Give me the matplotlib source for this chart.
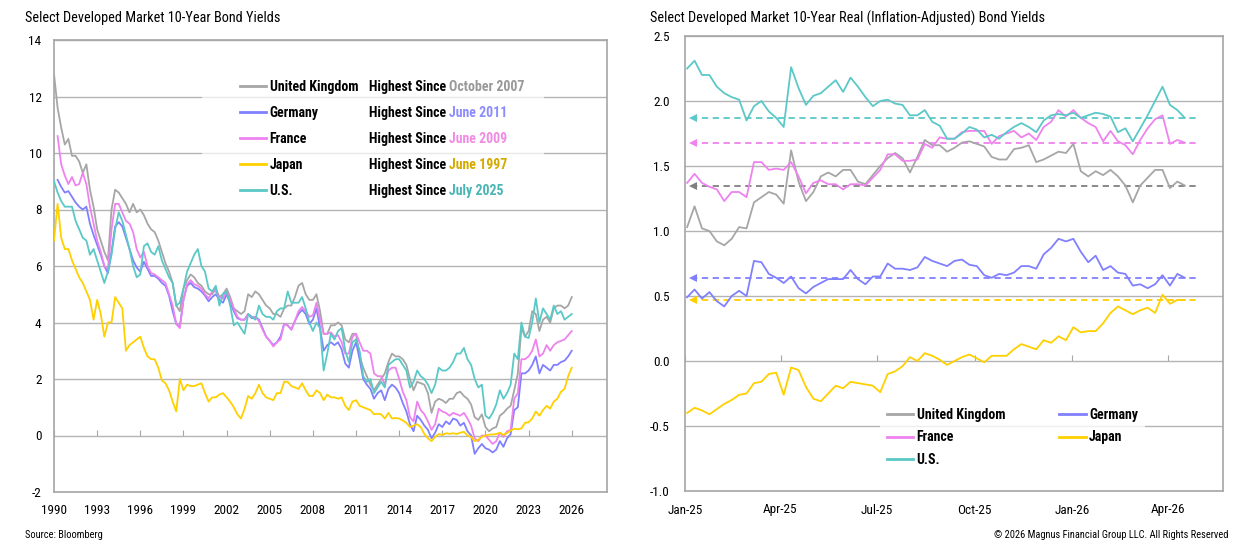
import matplotlib
matplotlib.use('Agg')
import matplotlib.pyplot as plt
import matplotlib.dates as mdates
from matplotlib.patches import Rectangle
from matplotlib.ticker import FormatStrFormatter
import numpy as np
import pandas as pd

plt.rcParams['font.family'] = ['Roboto Condensed', 'DejaVu Sans']
plt.rcParams['axes.unicode_minus'] = False

countries = ['United Kingdom', 'Germany', 'France', 'Japan', 'U.S.']
line_colors = ['#a6a6a6', '#8080ff', '#ee82ee', '#ffd000', '#5bc8c8']
dash_colors = ['#808080', '#8080ff', '#ee82ee', '#ffd000', '#5bc8c8']
since_dates = ['October 2007', 'June 2011', 'June 2009', 'June 1997', 'July 2025']
since_colors = ['#999999', '#8c8cff', '#f08ce6', '#d4aa00', '#4bb5b5']

# left chart: 10-year nominal yields, quarterly, chart starts 1990
start_year = 1990
uk_10y = [12.8, 11.6, 10.9, 10.3, 10.5, 9.9, 9.9, 9.7, 9.3, 9.6, 8.7, 8.1,
          7.3, 6.9, 6.5, 6.2, 8.0, 8.7, 8.6, 8.4, 8.2, 7.9, 8.2, 7.9,
          8.0, 7.8, 7.5, 7.3, 7.2, 6.9, 6.5, 6.1, 5.8, 5.4, 4.6, 4.4,
          5.2, 5.5, 5.7, 5.6, 5.4, 5.3, 5.1, 5.0, 5.0, 5.2, 4.9, 5.0,
          5.2, 4.9, 4.5, 4.4, 4.3, 4.4, 5.0, 4.9, 5.1, 5.0, 4.8, 4.6,
          4.5, 4.3, 4.3, 4.2, 4.5, 4.6, 4.6, 4.9, 5.3, 5.4, 5.0, 4.8,
          4.8, 5.0, 4.4, 3.6, 3.6, 3.9, 3.9, 4.0, 3.9, 3.4, 3.3, 3.6,
          3.6, 2.8, 2.4, 2.1, 1.8, 1.6, 1.8, 2.0, 2.2, 2.6, 2.9, 2.8,
          2.8, 2.7, 2.5, 2.0, 1.6, 1.9, 1.85, 1.8, 1.5, 0.8, 1.2, 1.3,
          1.25, 1.15, 1.3, 1.3, 1.5, 1.55, 1.4, 1.3, 1.1, 0.65, 0.55, 0.75,
          0.3, 0.15, 0.25, 0.3, 0.7, 0.8, 0.95, 1.05, 1.6, 2.2, 3.8, 3.5,
          3.7, 4.4, 4.3, 3.7, 4.1, 4.2, 4.0, 4.5, 4.6, 4.6, 4.5, 4.6,
          4.9]
de_10y = [np.nan, 9.05, 8.8, 8.6, 8.65, 8.45, 8.25, 8.1, 8.0, 8.1, 7.5, 7.1,
          6.75, 6.4, 6.0, 5.75, 6.5, 7.4, 7.55, 7.4, 7.0, 6.6, 6.2, 5.95,
          5.8, 6.15, 5.9, 5.65, 5.65, 5.55, 5.4, 5.3, 4.95, 4.4, 3.95, 3.85,
          4.8, 5.3, 5.4, 5.25, 5.2, 5.1, 4.95, 4.75, 4.9, 5.0, 4.8, 4.7,
          5.0, 4.7, 4.4, 4.15, 4.1, 4.1, 4.3, 4.15, 4.2, 4.1, 3.8, 3.5,
          3.35, 3.2, 3.3, 3.5, 3.95, 3.9, 3.75, 4.05, 4.3, 4.45, 4.3, 3.95,
          4.1, 4.5, 3.8, 3.0, 3.2, 3.3, 3.2, 3.3, 3.05, 2.55, 2.4, 3.0,
          3.3, 2.7, 2.0, 1.8, 1.65, 1.3, 1.5, 1.6, 1.25, 1.65, 1.8, 1.7,
          1.5, 1.15, 0.85, 0.4, 0.15, 0.7, 0.55, 0.35, 0.2, -0.1, 0.1, 0.4,
          0.3, 0.5, 0.4, 0.6, 0.55, 0.35, 0.45, 0.15, 0.0, -0.65, -0.45, -0.3,
          -0.45, -0.5, -0.6, -0.5, -0.2, -0.4, -0.1, 0.05, 0.9, 1.0, 2.2, 2.2,
          2.3, 2.5, 2.8, 2.2, 2.5, 2.4, 2.3, 2.5, 2.5, 2.6, 2.65, 2.8,
          3.0]
fr_10y = [np.nan, 10.6, 9.6, 9.2, 8.9, 9.15, 8.85, 8.9, 9.3, 8.9, 8.1, 7.5,
          6.9, 6.5, 6.0, 5.9, 7.3, 8.2, 8.2, 7.9, 7.6, 7.5, 7.2, 6.6,
          6.3, 6.5, 6.0, 5.75, 5.7, 5.6, 5.5, 5.4, 5.0, 4.6, 3.95, 3.8,
          4.8, 5.35, 5.5, 5.35, 5.3, 5.2, 5.0, 4.85, 5.1, 5.1, 4.9, 4.85,
          5.1, 4.8, 4.5, 4.2, 4.1, 4.1, 4.3, 4.2, 4.2, 4.05, 3.75, 3.5,
          3.35, 3.15, 3.3, 3.4, 3.95, 3.9, 3.75, 4.05, 4.4, 4.55, 4.4, 4.2,
          4.25, 4.7, 4.1, 3.6, 3.6, 3.65, 3.5, 3.55, 3.3, 2.9, 2.9, 3.5,
          3.6, 3.3, 3.0, 3.0, 2.9, 2.2, 2.1, 2.1, 1.8, 2.3, 2.4, 2.4,
          2.0, 1.55, 1.25, 0.65, 0.5, 1.2, 0.9, 0.75, 0.5, 0.2, 0.4, 0.95,
          0.85, 0.8, 0.7, 0.8, 0.75, 0.7, 0.8, 0.6, 0.35, -0.1, -0.2, 0.0,
          0.0, -0.15, -0.3, -0.2, 0.1, -0.05, 0.15, 0.2, 1.3, 1.5, 2.7, 2.7,
          2.8, 3.0, 3.4, 2.8, 2.9, 3.2, 3.0, 3.2, 3.3, 3.35, 3.4, 3.55,
          3.7]
jp_10y = [6.9, 8.2, 7.0, 6.6, 6.6, 6.2, 5.9, 5.6, 5.4, 5.1, 4.8, 4.1,
          4.8, 4.3, 3.5, 4.0, 4.0, 4.9, 4.7, 4.5, 3.0, 3.2, 3.3, 3.4,
          3.5, 3.1, 2.8, 2.7, 2.7, 2.4, 1.95, 1.85, 1.6, 1.2, 0.85, 2.0,
          1.6, 1.8, 1.75, 1.75, 1.8, 1.85, 1.5, 1.2, 1.35, 1.35, 1.45, 1.5,
          1.35, 1.2, 1.0, 0.75, 0.6, 0.95, 1.4, 1.3, 1.5, 1.8, 1.5, 1.35,
          1.3, 1.25, 1.5, 1.5, 1.9, 1.9, 1.75, 1.7, 1.65, 1.85, 1.6, 1.4,
          1.4, 1.6, 1.5, 1.25, 1.45, 1.35, 1.35, 1.3, 1.35, 1.05, 0.9, 1.2,
          1.25, 1.05, 1.0, 0.95, 0.9, 0.75, 0.77, 0.75, 0.6, 0.8, 0.6, 0.62,
          0.6, 0.53, 0.45, 0.3, 0.35, 0.4, 0.3, 0.05, -0.1, -0.2, -0.05, 0.05,
          0.02, 0.08, 0.06, 0.08, 0.05, 0.1, 0.13, 0.0, -0.05, -0.2, -0.15, -0.05,
          0.0, 0.03, 0.04, 0.05, 0.1, 0.02, 0.09, 0.17, 0.24, 0.22, 0.25, 0.45,
          0.47, 0.6, 0.85, 0.7, 0.9, 1.05, 0.95, 1.2, 1.3, 1.55, 1.65, 2.1,
          2.4]
us_10y = [9.0, 8.6, 8.3, 8.1, 8.1, 8.1, 7.6, 7.3, 7.0, 6.9, 6.4, 6.6,
          6.2, 5.8, 5.4, 5.8, 6.4, 7.3, 7.9, 7.6, 7.1, 6.6, 6.0, 5.6,
          5.7, 6.7, 6.8, 6.5, 6.4, 6.7, 6.2, 5.9, 5.6, 5.4, 4.6, 4.7,
          5.2, 5.8, 6.1, 6.4, 6.6, 6.0, 5.8, 5.2, 5.1, 5.3, 4.6, 5.0,
          5.1, 4.6, 3.9, 4.0, 3.8, 3.6, 4.3, 4.2, 4.1, 4.6, 4.3, 4.2,
          4.2, 4.1, 4.4, 4.5, 4.5, 5.1, 4.7, 4.7, 4.7, 4.9, 4.5, 4.0,
          3.7, 4.0, 3.8, 2.3, 2.9, 3.6, 3.4, 3.7, 3.8, 3.0, 2.6, 3.3,
          3.4, 3.0, 2.1, 1.9, 2.0, 1.5, 1.7, 1.9, 1.7, 2.5, 2.6, 2.7,
          2.7, 2.5, 2.3, 1.7, 1.9, 2.3, 2.1, 2.0, 1.8, 1.5, 1.8, 2.4,
          2.3, 2.3, 2.4, 2.6, 2.9, 2.9, 3.1, 2.7, 2.5, 2.0, 1.7, 1.8,
          0.7, 0.6, 0.8, 1.1, 1.6, 1.3, 1.5, 1.8, 2.9, 2.7, 4.0, 3.5,
          3.45, 4.0, 4.85, 4.0, 4.5, 4.3, 4.1, 4.6, 4.3, 4.4, 4.1, 4.2,
          4.3]
year_ticks = [1990, 1993, 1996, 1999, 2002, 2005, 2008, 2011, 2014, 2017, 2020, 2023, 2026]

# right chart: 10-year real yields, weekly
week_start = '2025-01-03'
uk_real = [1.03, 1.19, 1.02, 1.00, 0.92, 0.89, 0.94, 1.03, 1.02, 1.22,
           1.26, 1.30, 1.28, 1.21, 1.62, 1.38, 1.23, 1.30, 1.42, 1.45,
           1.42, 1.47, 1.47, 1.38, 1.36, 1.43, 1.50, 1.56, 1.60, 1.56,
           1.45, 1.57, 1.70, 1.66, 1.66, 1.61, 1.64, 1.68, 1.69, 1.67,
           1.65, 1.57, 1.55, 1.55, 1.63, 1.64, 1.66, 1.53, 1.55, 1.58,
           1.61, 1.60, 1.67, 1.46, 1.42, 1.46, 1.43, 1.47, 1.42, 1.35,
           1.22, 1.35, 1.41, 1.47, 1.47, 1.33, 1.38, 1.35]
de_real = [0.49, 0.55, 0.48, 0.53, 0.46, 0.42, 0.50, 0.54, 0.50, 0.77,
           0.76, 0.67, 0.64, 0.60, 0.65, 0.56, 0.52, 0.57, 0.60, 0.63,
           0.63, 0.63, 0.70, 0.63, 0.59, 0.65, 0.65, 0.75, 0.71, 0.71,
           0.70, 0.72, 0.80, 0.77, 0.75, 0.73, 0.77, 0.78, 0.74, 0.73,
           0.66, 0.64, 0.67, 0.66, 0.68, 0.73, 0.73, 0.71, 0.82, 0.87,
           0.94, 0.92, 0.94, 0.84, 0.76, 0.81, 0.70, 0.73, 0.68, 0.67,
           0.58, 0.59, 0.56, 0.59, 0.66, 0.58, 0.67, 0.64]
fr_real = [1.37, 1.44, 1.37, 1.34, 1.32, 1.23, 1.30, 1.30, 1.26, 1.53,
           1.53, 1.47, 1.48, 1.47, 1.53, 1.42, 1.29, 1.37, 1.39, 1.36,
           1.36, 1.32, 1.36, 1.36, 1.35, 1.41, 1.47, 1.59, 1.59, 1.54,
           1.54, 1.55, 1.67, 1.64, 1.72, 1.71, 1.71, 1.76, 1.77, 1.77,
           1.77, 1.67, 1.73, 1.75, 1.77, 1.72, 1.75, 1.70, 1.80, 1.84,
           1.93, 1.88, 1.93, 1.87, 1.83, 1.80, 1.69, 1.77, 1.69, 1.66,
           1.59, 1.70, 1.79, 1.86, 1.89, 1.67, 1.70, 1.68]
jp_real = [-0.40, -0.36, -0.38, -0.41, -0.37, -0.33, -0.30, -0.26, -0.25, -0.17,
           -0.16, -0.10, -0.09, -0.26, -0.05, -0.07, -0.20, -0.29, -0.31, -0.25,
           -0.19, -0.21, -0.16, -0.17, -0.18, -0.19, -0.24, -0.10, -0.08, -0.04,
           0.03, 0.00, 0.06, 0.04, 0.01, -0.03, 0.00, 0.03, 0.05, 0.02,
           -0.01, 0.04, 0.04, 0.04, 0.09, 0.13, 0.11, 0.09, 0.16, 0.14,
           0.19, 0.16, 0.26, 0.22, 0.23, 0.23, 0.29, 0.37, 0.42, 0.39,
           0.36, 0.39, 0.41, 0.37, 0.51, 0.44, 0.47, 0.47]
us_real = [2.25, 2.31, 2.20, 2.20, 2.11, 2.06, 2.03, 2.01, 1.85, 1.96,
           2.00, 1.92, 1.87, 1.80, 2.26, 2.10, 1.97, 2.04, 2.06, 2.11,
           2.16, 2.07, 2.18, 2.11, 2.03, 1.96, 2.00, 2.01, 1.98, 1.97,
           1.89, 1.89, 1.93, 1.84, 1.81, 1.71, 1.71, 1.75, 1.80, 1.78,
           1.72, 1.74, 1.71, 1.76, 1.80, 1.83, 1.80, 1.76, 1.85, 1.89,
           1.90, 1.89, 1.91, 1.87, 1.89, 1.91, 1.90, 1.88, 1.76, 1.79,
           1.69, 1.79, 1.89, 2.00, 2.11, 1.97, 1.93, 1.87]
month_ticks = pd.date_range('2025-01-01', '2026-04-01', freq='QS')

grid_c = '#b4b4b4'
spine_c = '#a6a6a6'

fig = plt.figure(figsize=(12.49, 5.5), dpi=100)
ax1 = fig.add_axes([54 / 1249, 1 - 492 / 550, 553 / 1249, 452 / 550])
ax2 = fig.add_axes([685 / 1249, 1 - 491 / 550, 538 / 1249, 455 / 550])

# ---- left chart
left_series = [uk_10y, de_10y, fr_10y, jp_10y, us_10y]
years = start_year + np.arange(len(uk_10y)) / 4
for name, vals, c in zip(countries, left_series, line_colors):
    ax1.plot(years, vals, color=c, lw=1.3, label=name, zorder=3)

ax1.set_xlim(1990, 2028.45)
ax1.set_ylim(-2, 14)
ax1.set_yticks(range(-2, 15, 2))
ax1.set_xticks(year_ticks)
ax1.tick_params(axis='x', length=0, pad=9, labelsize=9.5)
ax1.tick_params(axis='y', length=0, pad=9, labelsize=9.5)
ax1.grid(axis='y', color=grid_c, lw=1.0)
ax1.set_axisbelow(True)
for s in ax1.spines.values():
    s.set_color(spine_c)
    s.set_linewidth(1.2)
sec1 = ax1.secondary_xaxis(2 / 16)
sec1.set_xticks(year_ticks)
sec1.tick_params(direction='in', length=4, color=spine_c, labelbottom=False)
sec1.spines['bottom'].set_visible(False)

ax1.add_patch(Rectangle((0.268, 0.642), 0.618, 0.285, transform=ax1.transAxes,
                        facecolor='white', alpha=0.7, edgecolor='none', zorder=1.5))
leg1 = ax1.legend(loc='upper left', bbox_to_anchor=(0.336, 0.912), frameon=False,
                  borderpad=0, borderaxespad=0, handlelength=1.9, handletextpad=0.25,
                  labelspacing=0.86, prop={'weight': 'bold', 'size': 10})
for h in leg1.get_lines():
    h.set_linewidth(2)

# ---- right chart
dates = pd.date_range(week_start, periods=len(us_real), freq='7D')
right_series = [uk_real, de_real, fr_real, jp_real, us_real]
handles = []
for name, vals, c, dc in zip(countries, right_series, line_colors, dash_colors):
    ln, = ax2.plot(dates, vals, color=c, lw=1.3, label=name, zorder=3)
    handles.append(ln)
    lvl = vals[-1]
    ax2.plot([pd.Timestamp('2025-01-07'), pd.Timestamp('2026-05-01')], [lvl, lvl],
             color=dc, lw=1.3, dashes=(3.5, 2.5), zorder=2.5)
    ax2.plot(pd.Timestamp('2025-01-09'), lvl, marker='<', color=dc, ms=6, mew=0, zorder=2.5)

ax2.set_xlim(pd.Timestamp('2025-01-01'), pd.Timestamp('2026-05-23'))
ax2.set_ylim(-1.0, 2.5)
ax2.set_yticks(np.arange(-1.0, 2.51, 0.5))
ax2.yaxis.set_major_formatter(FormatStrFormatter('%.1f'))
ax2.set_xticks(month_ticks)
ax2.xaxis.set_major_formatter(mdates.DateFormatter('%b-%y'))
ax2.tick_params(axis='x', length=0, pad=9, labelsize=9.5)
ax2.tick_params(axis='y', length=0, pad=11, labelsize=9.5)
ax2.grid(axis='y', color=grid_c, lw=1.0)
ax2.set_axisbelow(True)
for s in ax2.spines.values():
    s.set_color(spine_c)
    s.set_linewidth(1.2)
sec2 = ax2.secondary_xaxis(1 / 3.5)
sec2.set_xticks(mdates.date2num(month_ticks))
sec2.tick_params(direction='in', length=4, color=spine_c, labelbottom=False)
sec2.spines['bottom'].set_visible(False)

order = [0, 2, 4, 1, 3]
leg2 = ax2.legend([handles[i] for i in order], [countries[i] for i in order],
                  ncol=2, loc='upper left', bbox_to_anchor=(0.362, 0.198),
                  frameon=True, facecolor='white', framealpha=0.8, edgecolor='none',
                  fancybox=False, borderpad=0.5, borderaxespad=0, handlelength=1.9,
                  handletextpad=0.25, labelspacing=0.62, columnspacing=3.9,
                  prop={'weight': 'bold', 'size': 10})
for h in leg2.get_lines():
    h.set_linewidth(2)

# titles and footers
fig.text(25 / 1249, 1 - 18 / 550, 'Select Developed Market 10-Year Bond Yields',
         fontsize=10.3, va='center', ha='left')
fig.text(650 / 1249, 1 - 18 / 550,
         'Select Developed Market 10-Year Real (Inflation-Adjusted) Bond Yields',
         fontsize=10.3, va='center', ha='left')
fig.text(25 / 1249, 1 - 535 / 550, 'Source: Bloomberg', fontsize=7.5, va='center', ha='left')
fig.text(1228 / 1249, 1 - 535 / 550, '\u00a9 2026 Magnus Financial Group LLC. All Rights Reserved',
         fontsize=7.5, va='center', ha='right')

# "Highest Since" column next to the left legend
fig.canvas.draw()
inv = ax1.transAxes.inverted()
for txt, since, dcol in zip(leg1.get_texts(), since_dates, since_colors):
    bb = txt.get_window_extent()
    y = inv.transform((0, (bb.y0 + bb.y1) / 2))[1]
    t = ax1.text(0.5696, y, 'Highest Since ', transform=ax1.transAxes, va='center',
                 ha='left', fontweight='bold', fontsize=10, zorder=4)
    ax1.annotate(since, xy=(1, 0), xycoords=t, va='bottom', ha='left', color=dcol,
                 fontweight='bold', fontsize=10, zorder=4)

fig.savefig('out.png', dpi=100)
